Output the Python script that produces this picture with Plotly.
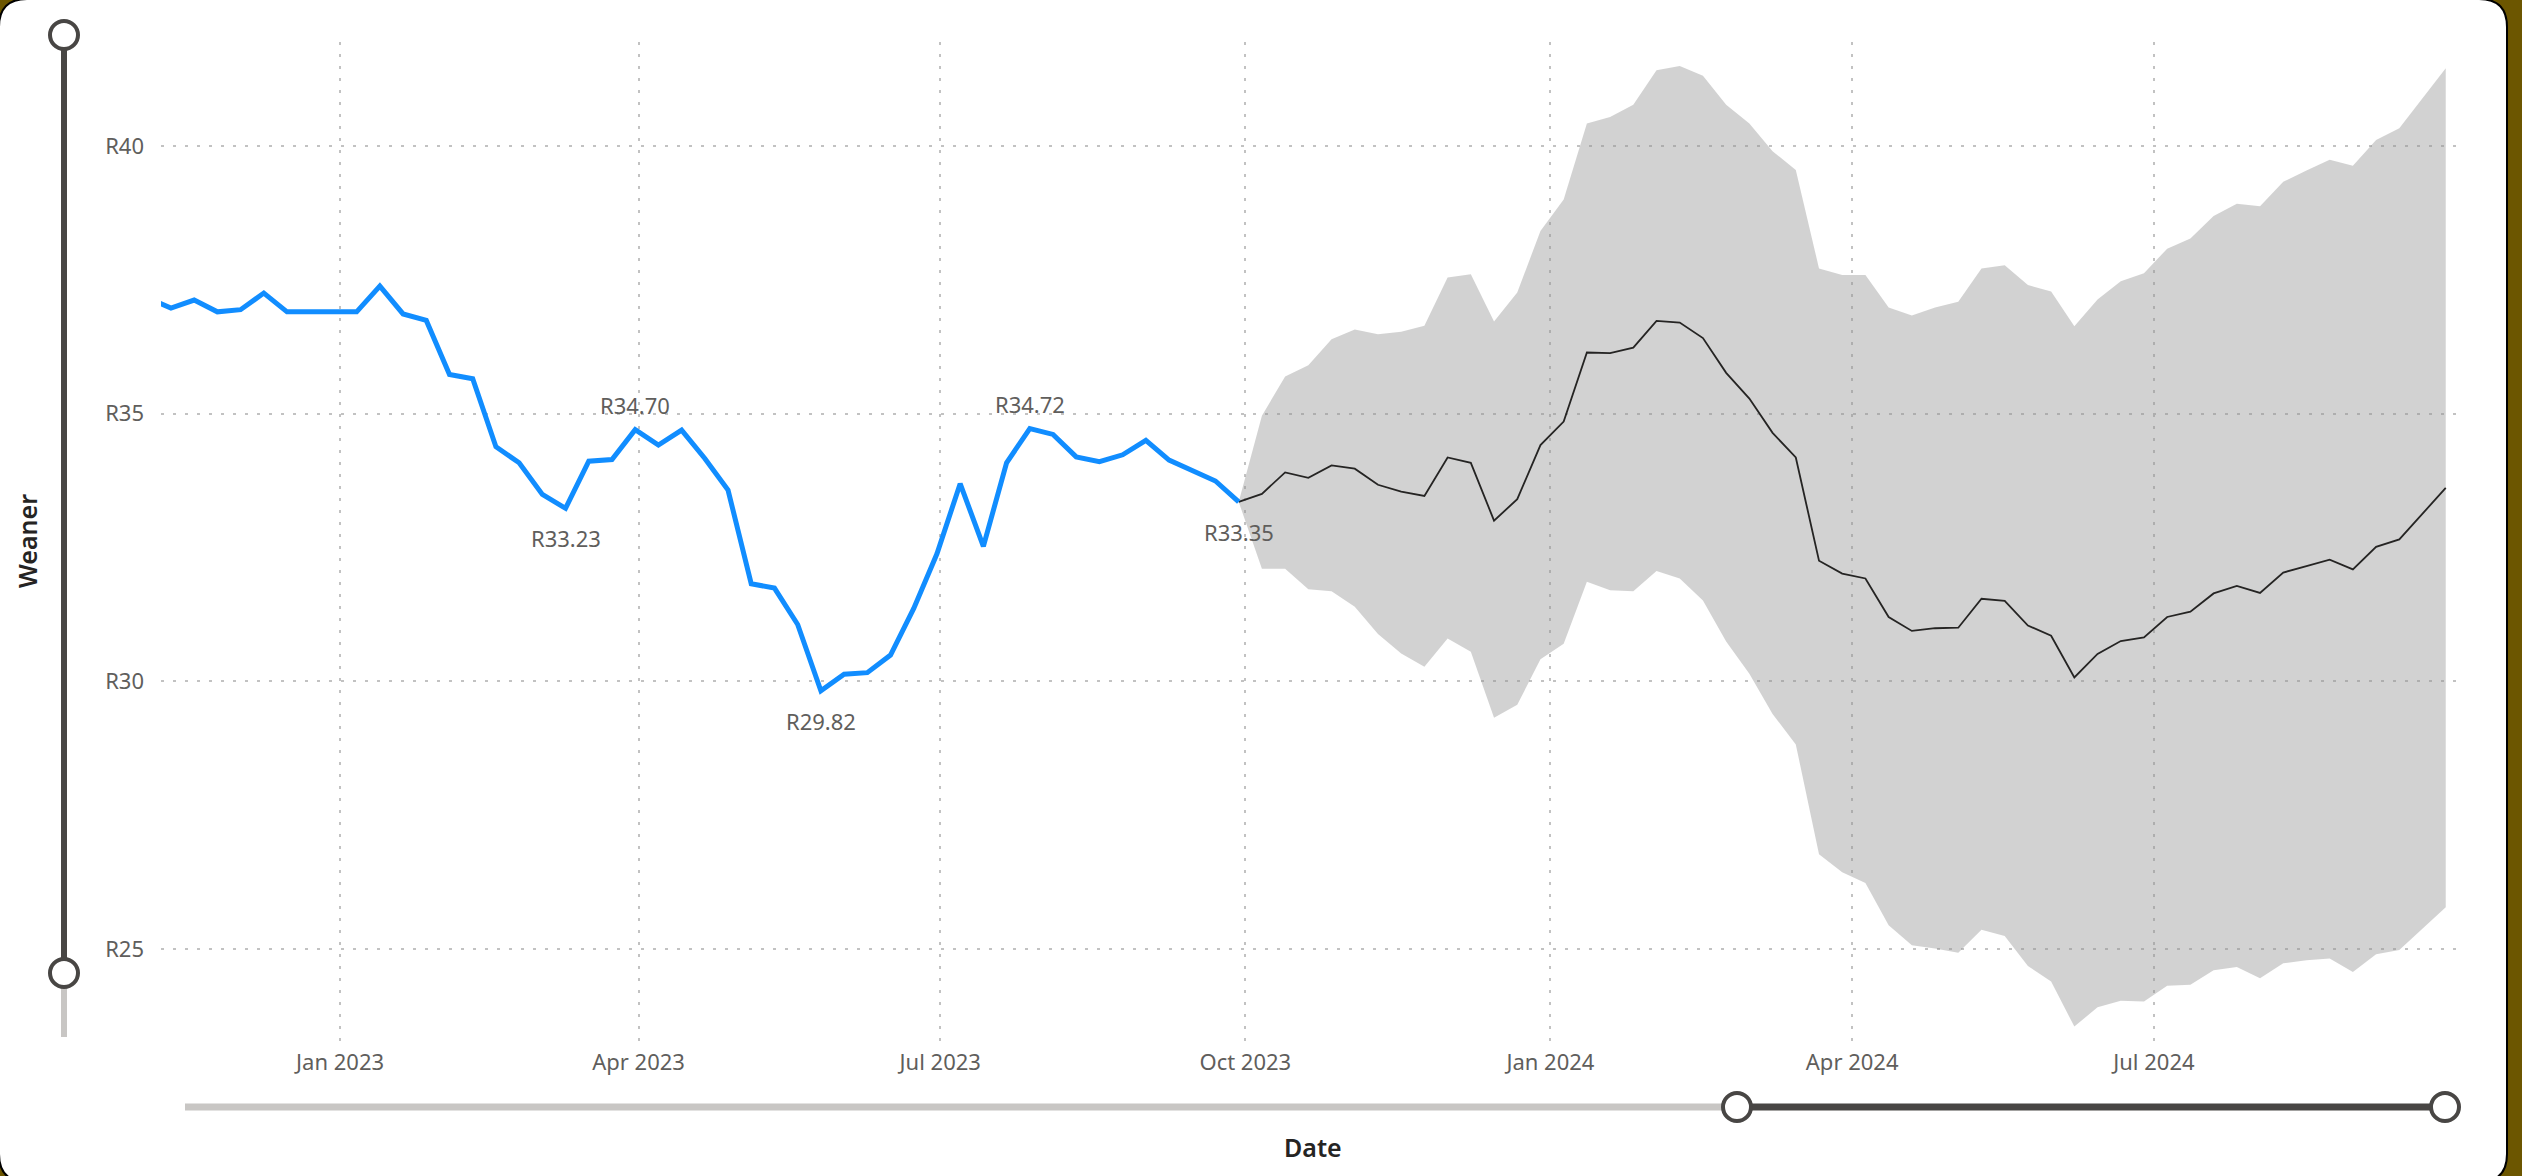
import plotly.graph_objects as go
import pandas as pd

# ---------------- data ----------------
actual_dates = pd.date_range("2022-11-04", periods=48, freq="7D")
actual_values = [
    37.16, 36.97, 37.12, 36.90, 36.94, 37.25, 36.90, 36.90, 36.90, 36.90,
    37.38, 36.86, 36.74, 35.73, 35.65, 34.38, 34.08, 33.49, 33.23, 34.11,
    34.14, 34.70, 34.41, 34.69, 34.16, 33.57, 31.82, 31.74, 31.06, 29.82,
    30.13, 30.16, 30.49, 31.36, 32.38, 33.69, 32.52, 34.08, 34.72, 34.61,
    34.19, 34.10, 34.23, 34.50, 34.13, 33.93, 33.74, 33.35,
]

forecast_dates = pd.date_range("2023-09-29", periods=53, freq="7D")
forecast_values = [
    33.35, 33.50, 33.90, 33.80, 34.03, 33.97, 33.67, 33.54, 33.46, 34.18,
    34.08, 33.00, 33.40, 34.41, 34.85, 36.14, 36.13, 36.23, 36.73, 36.70,
    36.41, 35.76, 35.28, 34.64, 34.18, 32.25, 32.01, 31.92, 31.20, 30.94,
    30.99, 31.00, 31.54, 31.50, 31.04, 30.85, 30.07, 30.51, 30.75, 30.82,
    31.20, 31.30, 31.64, 31.78, 31.65, 32.03, 32.15, 32.27, 32.09, 32.51,
    32.65, 33.13, 33.61,
]
forecast_upper = [
    33.35, 34.96, 35.69, 35.90, 36.39, 36.57, 36.48, 36.53, 36.64, 37.54,
    37.60, 36.72, 37.26, 38.41, 39.00, 40.42, 40.54, 40.77, 41.41, 41.49,
    41.31, 40.77, 40.42, 39.90, 39.55, 37.71, 37.59, 37.59, 36.98, 36.83,
    36.98, 37.09, 37.71, 37.77, 37.40, 37.28, 36.63, 37.13, 37.47, 37.62,
    38.08, 38.27, 38.69, 38.92, 38.87, 39.33, 39.54, 39.74, 39.63, 40.11,
    40.33, 40.89, 41.45,
]
forecast_lower = [
    33.35, 32.10, 32.10, 31.72, 31.68, 31.39, 30.88, 30.52, 30.27, 30.80,
    30.55, 29.32, 29.56, 30.41, 30.70, 31.86, 31.70, 31.68, 32.06, 31.92,
    31.51, 30.74, 30.14, 29.39, 28.82, 26.77, 26.43, 26.23, 25.44, 25.07,
    25.01, 24.93, 25.36, 25.24, 24.68, 24.39, 23.55, 23.91, 24.03, 24.02,
    24.31, 24.33, 24.60, 24.66, 24.45, 24.73, 24.79, 24.82, 24.57, 24.90,
    24.98, 25.38, 25.78,
]

label_indices = [18, 21, 29, 38, 47]
label_sides = ["below", "above", "below", "above", "below"]

x_tick_vals = ["2023-01-01", "2023-04-01", "2023-07-01", "2023-10-01",
               "2024-01-01", "2024-04-01", "2024-07-01"]
x_tick_text = ["Jan 2023", "Apr 2023", "Jul 2023", "Oct 2023",
               "Jan 2024", "Apr 2024", "Jul 2024"]
y_tick_vals = [25, 30, 35, 40]
y_tick_text = ["R25", "R30", "R35", "R40"]

# ---------------- layout geometry (pixels) ----------------
W, H = 2522, 1176
ML, MR, MT, MB = 161, 63, 42, 135
PW = W - ML - MR
PH = H - MT - MB


def px(xp):
    return (xp - ML) / PW


def py(yp):
    return (H - MB - yp) / PH


FONT = "Noto Sans, Segoe UI, sans-serif"
TICK_COLOR = "#605e5c"
TITLE_COLOR = "#252423"
DARK = "#484644"
LIGHT = "#c8c6c4"
OLIVE = "#6c5600"
GRID = "#c2c2c2"

fig = go.Figure()

# confidence band
fig.add_trace(go.Scatter(
    x=forecast_dates, y=forecast_lower, mode="lines",
    line=dict(width=0, color="rgba(0,0,0,0)"), hoverinfo="skip", showlegend=False,
))
fig.add_trace(go.Scatter(
    x=forecast_dates, y=forecast_upper, mode="lines",
    line=dict(width=0, color="rgba(0,0,0,0)"), fill="tonexty",
    fillcolor="rgba(146,146,146,0.41)", hoverinfo="skip", showlegend=False,
))
# forecast line
fig.add_trace(go.Scatter(
    x=forecast_dates, y=forecast_values, mode="lines",
    line=dict(width=1.8, color="#252423"), showlegend=False,
))
# actual line
fig.add_trace(go.Scatter(
    x=actual_dates, y=actual_values, mode="lines",
    line=dict(width=5, color="#118DFF"), showlegend=False,
))

annotations = []
for i, side in zip(label_indices, label_sides):
    annotations.append(dict(
        x=actual_dates[i], y=actual_values[i], xref="x", yref="y",
        text=f"R{actual_values[i]:.2f}", showarrow=False,
        yshift=25 if side == "above" else -30,
        font=dict(family=FONT, size=22, color=TICK_COLOR),
    ))

# axis titles
annotations.append(dict(
    x=px(27), y=py(541), xref="paper", yref="paper", text="Weaner",
    textangle=-90, showarrow=False, xanchor="center", yanchor="middle",
    font=dict(family=FONT, size=25, color=TITLE_COLOR, weight=600),
))
annotations.append(dict(
    x=px(1313), y=py(1147), xref="paper", yref="paper", text="Date",
    showarrow=False, xanchor="center", yanchor="middle",
    font=dict(family=FONT, size=25, color=TITLE_COLOR, weight=600),
))

# card background (rounded rect) in paper coords
x0, y0, x1, y1, r = -1, -1, 2507, 1182, 28
card_path = (
    f"M {px(x0 + r)},{py(y0)} L {px(x1 - r)},{py(y0)} "
    f"Q {px(x1)},{py(y0)} {px(x1)},{py(y0 + r)} "
    f"L {px(x1)},{py(y1 - r)} Q {px(x1)},{py(y1)} {px(x1 - r)},{py(y1)} "
    f"L {px(x0 + r)},{py(y1)} Q {px(x0)},{py(y1)} {px(x0)},{py(y1 - r)} "
    f"L {px(x0)},{py(y0 + r)} Q {px(x0)},{py(y0)} {px(x0 + r)},{py(y0)} Z"
)
shapes = [dict(type="path", path=card_path, xref="paper", yref="paper",
               fillcolor="white", line=dict(color="black", width=2), layer="below")]


def hline(xa, xb, y, color, w):
    return dict(type="line", xref="paper", yref="paper", x0=px(xa), x1=px(xb),
                y0=py(y), y1=py(y), line=dict(color=color, width=w), layer="above")


def vline(x, ya, yb, color, w):
    return dict(type="line", xref="paper", yref="paper", x0=px(x), x1=px(x),
                y0=py(ya), y1=py(yb), line=dict(color=color, width=w), layer="above")


def handle(cx, cy, rad=14):
    return dict(type="circle", xref="paper", yref="paper",
                x0=px(cx - rad), x1=px(cx + rad), y0=py(cy + rad), y1=py(cy - rad),
                fillcolor="white", line=dict(color=DARK, width=4), layer="above")


# vertical (y) slider
shapes.append(vline(64, 973, 1037, LIGHT, 6))
shapes.append(vline(64, 35, 973, DARK, 6))
shapes.append(handle(64, 35))
shapes.append(handle(64, 973))
# horizontal (x) slider
shapes.append(hline(185, 1737, 1107, LIGHT, 7))
shapes.append(hline(1737, 2445, 1107, DARK, 7))
shapes.append(handle(1737, 1107))
shapes.append(handle(2445, 1107))

fig.update_layout(
    width=W, height=H,
    margin=dict(l=ML, r=MR, t=MT, b=MB, pad=0),
    paper_bgcolor=OLIVE,
    plot_bgcolor="rgba(0,0,0,0)",
    showlegend=False,
    shapes=shapes,
    annotations=annotations,
    xaxis=dict(
        type="date", range=["2022-11-08", "2024-10-01"],
        tickvals=x_tick_vals, ticktext=x_tick_text,
        showgrid=True, gridcolor=GRID, gridwidth=2, griddash="3px,9px",
        zeroline=False, showline=False, ticks="",
        tickfont=dict(family=FONT, size=22, color=TICK_COLOR),
        ticklabelstandoff=6,
    ),
    yaxis=dict(
        range=[23.28, 41.94],
        tickvals=y_tick_vals, ticktext=y_tick_text,
        showgrid=True, gridcolor=GRID, gridwidth=2, griddash="3px,9px",
        zeroline=False, showline=False, ticks="",
        tickfont=dict(family=FONT, size=22, color=TICK_COLOR),
        ticklabelstandoff=16,
    ),
)

fig.write_html(
    "out.html",
    config={"displayModeBar": False},
    post_script="document.body.style.margin='0';document.body.style.overflow='hidden';"
                "document.body.style.background='" + OLIVE + "';",
)
